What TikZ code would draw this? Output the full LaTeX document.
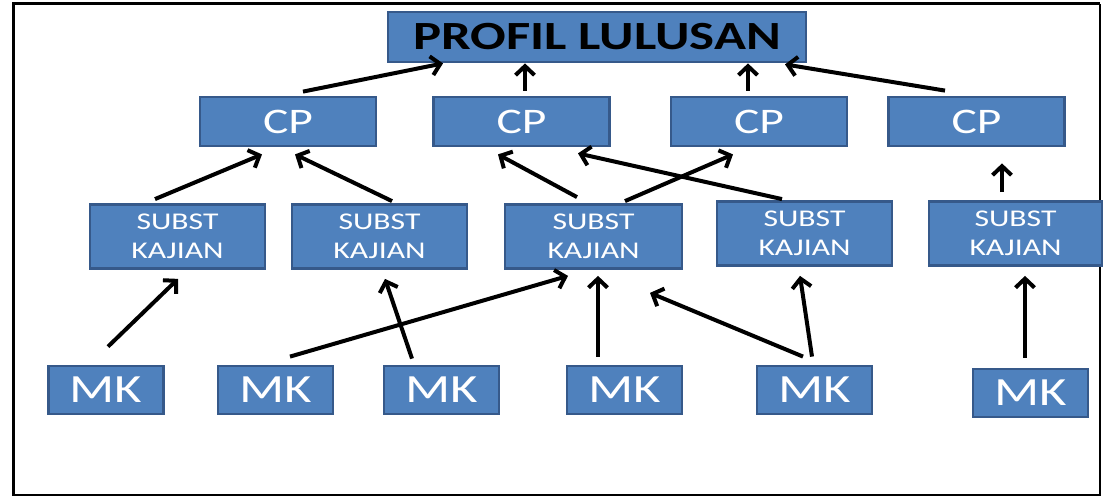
\documentclass[tikz,border=0pt]{standalone}
\usepackage{fontspec}
\setmainfont{Carlito}
\newfontfamily\widefont[FakeStretch=1.32]{Carlito}
\usetikzlibrary{arrows.meta,calc}
\definecolor{boxfill}{HTML}{4F81BD}
\definecolor{boxline}{HTML}{36598A}
\begin{document}
\begin{tikzpicture}[x=1pt,y=-1pt,
  box/.style={draw=boxline,fill=boxfill,line width=2.8pt,inner sep=0pt,text=white,align=center},
  cpbox/.style={box,minimum width=176pt,minimum height=49pt,font=\widefont\fontsize{36}{40}\selectfont},
  sbox/.style={box,minimum width=175pt,minimum height=64pt,font=\widefont\fontsize{24}{29}\selectfont},
  mkbox/.style={box,minimum width=115pt,minimum height=48pt,font=\widefont\fontsize{40}{44}\selectfont},
  arr/.style={line width=4pt,-{Straight Barb[length=9pt,width=19pt]}}]
\useasboundingbox[fill=white] (0,0) rectangle (1103,497);
\draw[line width=3pt] (1100,4) -- (13,4) -- (13,496);
\draw[line width=1.8pt] (1100,4) -- (1100,495) -- (13,495);
% top
\node[box,minimum width=418pt,minimum height=50pt,text=black,font=\widefont\bfseries\fontsize{40}{44}\selectfont] (pl) at (597,37) {PROFIL LULUSAN};
% CP
\node[cpbox] (cp1) at (288,121.5) {CP};
\node[cpbox] (cp2) at (521.5,121.5) {CP};
\node[cpbox] (cp3) at (759,121.5) {CP};
\node[cpbox] (cp4) at (976.5,121.5) {CP};
% SUBST
\node[sbox] (s1) at (177.5,236.5) {SUBST\\KAJIAN};
\node[sbox] (s2) at (379.5,236.5) {SUBST\\KAJIAN};
\node[sbox,minimum width=177pt] (s3) at (593.5,236.5) {SUBST\\KAJIAN};
\node[sbox] (s4) at (804.5,233.5) {SUBST\\KAJIAN};
\node[sbox,minimum width=173pt] (s5) at (1015.5,233.5) {SUBST\\KAJIAN};
% MK
\node[mkbox] (mk1) at (106,390) {MK};
\node[mkbox] (mk2) at (275.5,390) {MK};
\node[mkbox] (mk3) at (441.5,390) {MK};
\node[mkbox] (mk4) at (624.5,390) {MK};
\node[mkbox] (mk5) at (814.5,390) {MK};
\node[mkbox] (mk6) at (1030.5,393) {MK};
% arrows CP -> PL
\draw[arr] ($(cp1.north)+(15,-4)$) -- ($(pl.south)+(-154,0)$);
\draw[arr] ($(cp2.north)+(3.5,-5)$) -- ($(pl.south)+(-72,0)$);
\draw[arr] ($(cp3.north)+(-11,-5)$) -- ($(pl.south)+(151,0)$);
\draw[arr] ($(cp4.north)+(-31.5,-5)$) -- ($(pl.south)+(188,1)$);
% SUBST -> CP
\draw[arr] ($(s1.north)+(-22.5,-4)$) -- ($(cp1.south)+(-26,7)$);
\draw[arr] ($(s2.north)+(12.5,-2)$) -- ($(cp1.south)+(7,7)$);
\draw[arr] ($(s3.north)+(-16.5,-6)$) -- ($(cp2.south)+(-23.5,7)$);
\draw[arr] ($(s3.north)+(31.5,-2)$) -- ($(cp3.south)+(-26,7)$);
\draw[arr] ($(s4.north)+(-22.5,-1)$) -- ($(cp2.south)+(56.5,6)$);
\draw[arr] ($(s5.north)+(-13.5,-8)$) -- ($(cp4.south)+(25.5,16)$);
% MK -> SUBST
\draw[arr] ($(mk1.north)+(2,-18)$) -- ($(s1.south)+(0.5,9)$);
\draw[arr] ($(mk2.north)+(14.5,-8)$) -- ($(s3.south)+(-25.5,6)$);
\draw[arr] ($(mk3.north)+(-29.5,-6)$) -- ($(s2.south)+(5.5,9)$);
\draw[arr] ($(mk4.north)+(-26.5,-8)$) -- ($(s3.south)+(4.5,6)$);
\draw[arr] ($(mk5.north)+(-11.5,-8)$) -- ($(s3.south)+(56.5,23)$);
\draw[arr] ($(mk5.north)+(-2.5,-8)$) -- ($(s4.south)+(-4.5,9)$);
\draw[arr] ($(mk6.north)+(-5.5,-10)$) -- ($(s5.south)+(9.5,9)$);
\end{tikzpicture}
\end{document}
